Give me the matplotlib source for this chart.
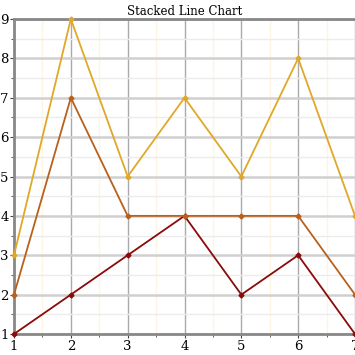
import matplotlib
matplotlib.use('Agg')
import matplotlib.pyplot as plt
import numpy as np

x_vals = [1, 2, 3, 4, 5, 6, 7]
series_a = [1, 2, 3, 4, 2, 3, 1]
series_b = [1, 5, 1, 0, 2, 1, 1]
series_c = [1, 2, 1, 3, 1, 4, 2]
colors = ['#8b0a0a', '#b8601c', '#e0a828']

plt.rcParams['font.family'] = 'DejaVu Serif'

fig = plt.figure(figsize=(3.55, 3.55), dpi=100)
ax = fig.add_axes([14/355, 21/355, 341/355, 315/355])

stacked = np.cumsum([series_a, series_b, series_c], axis=0)
for vals, c in zip(stacked, colors):
    ax.plot(x_vals, vals, color=c, lw=1.3, marker='D', ms=2.5, clip_on=False, zorder=3)

ax.set_xlim(1, 7)
ax.set_ylim(1, 9)
ax.set_xticks(x_vals)
ax.set_yticks(range(1, 10))
ax.set_xticks(np.arange(1.5, 7, 1), minor=True)
ax.set_yticks(np.arange(1.5, 9, 1), minor=True)
ax.grid(axis='x', which='major', color='#aaaaaa', lw=1)
ax.grid(axis='y', which='major', color='#d0d0d0', lw=1.8)
ax.grid(axis='x', which='minor', color='#fcf5e4', lw=1)
ax.grid(axis='y', which='minor', color='#ececec', lw=1)
ax.set_axisbelow(True)

for s in ['left', 'bottom', 'top']:
    ax.spines[s].set_color('#888888')
    ax.spines[s].set_linewidth(2)
ax.spines['right'].set_visible(False)

ax.tick_params(which='both', length=3, color='#444444', labelsize=9.5, pad=1)
ax.tick_params(which='minor', length=2)
ax.set_title('Stacked Line Chart', fontsize=8.5, pad=3)

fig.savefig('out.png', dpi=100)
